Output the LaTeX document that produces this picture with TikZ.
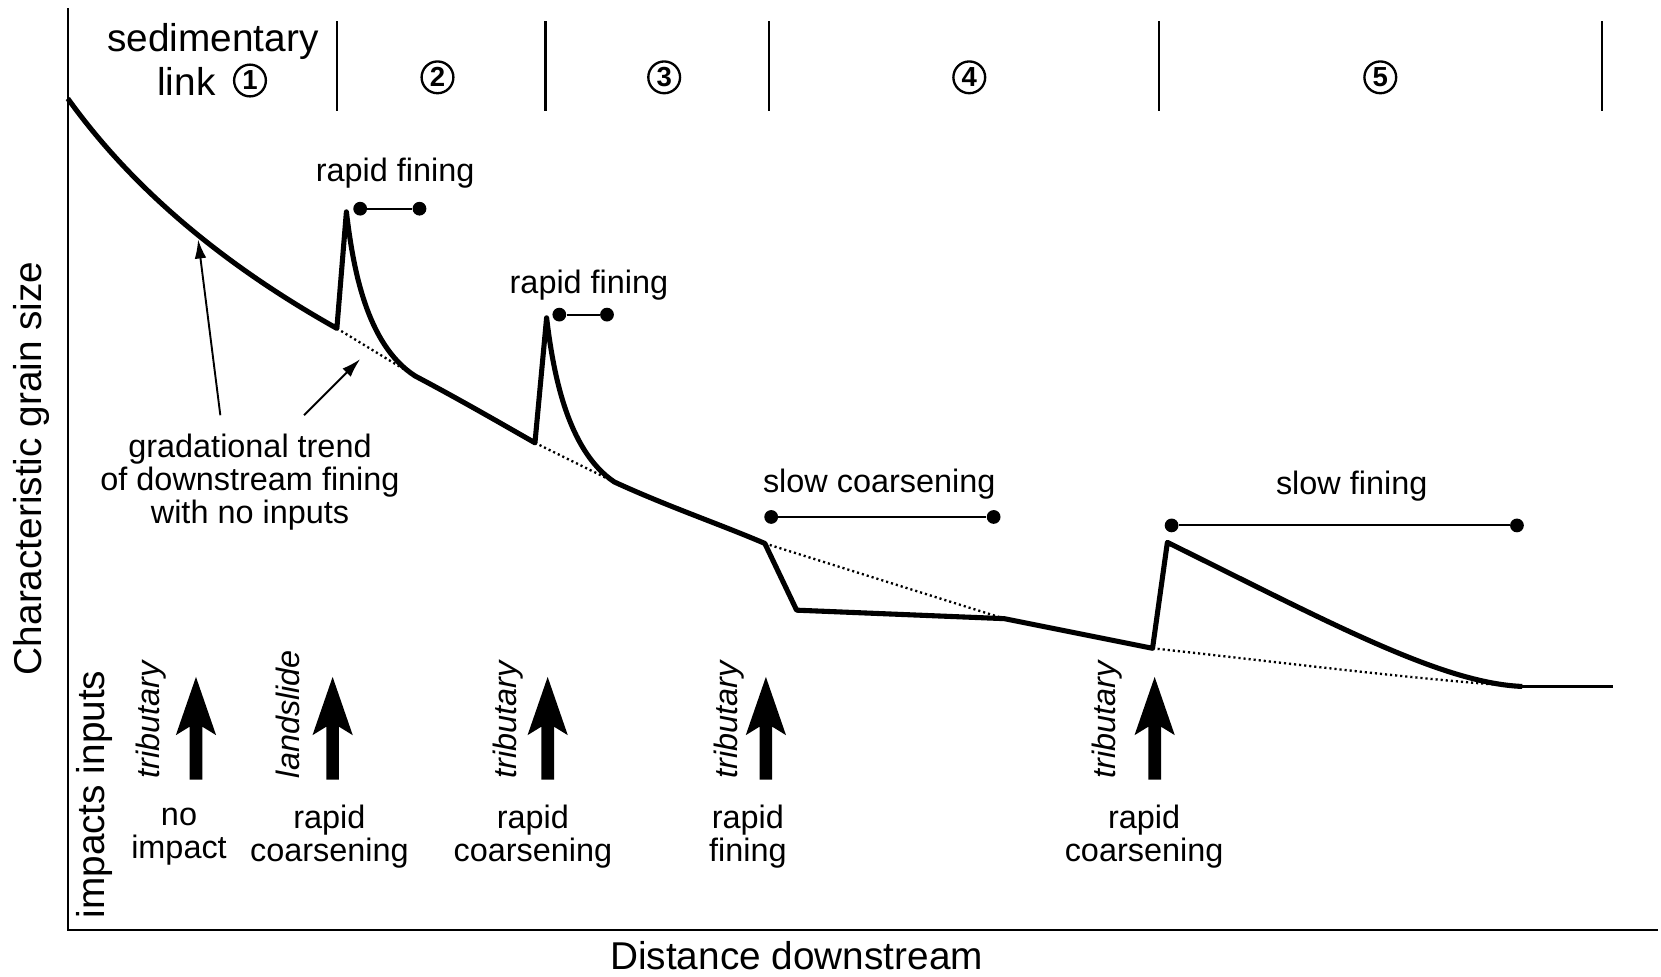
\documentclass[tikz,border=0pt]{standalone}
\usepackage{fontspec}
\setmainfont{Liberation Sans}
\usetikzlibrary{arrows.meta}
\begin{document}
\begin{tikzpicture}[x=0.5pt,y=-0.5pt,
  bigtxt/.style={font=\fontsize{18.3}{19}\selectfont, inner sep=0pt},
  smalltxt/.style={font=\fontsize{15.3}{15.5}\selectfont, inner sep=0pt, align=center},
  sidetxt/.style={font=\fontsize{15.3}{15.5}\selectfont\itshape, inner sep=0pt, rotate=90, anchor=west},
  circnum/.style={circle, draw, line width=1.1pt, inner sep=0pt, minimum size=15pt, font=\fontsize{13}{13}\selectfont\bfseries},
  axisline/.style={line width=1.1pt},
  divider/.style={line width=1pt},
  profile/.style={line width=2.4pt, line join=round},
  trend/.style={line width=1.1pt, dash pattern=on 1pt off 1.4pt},
  rangebar/.style={line width=1pt},
  dotend/.style={circle, fill, inner sep=0pt, minimum size=6.5pt},
  pointer/.style={line width=0.9pt, -{Latex[length=9pt,width=5.5pt]}},
  uparrow/.pic={\fill (-6,0) -- (-6,-50) -- (-19,-42) -- (0,-97) -- (19,-42) -- (6,-50) -- (6,0) -- cycle;}
]
\useasboundingbox (0,0) rectangle (1568,922);

% axes
\coordinate (axtop) at (64,8);
\coordinate (axorigin) at (64,878);
\coordinate (axright) at (1565,878);
\draw[axisline] (axtop) -- (axorigin) -- (axright);

% link dividers
\foreach \x in {318,515,726,1094,1512}
  \draw[divider] (\x,20) -- (\x,105);

% link labels
\node[bigtxt] (sed) at (201,39) {sedimentary};
\node[bigtxt] (lnk) at (176,77) {link};
\node[circnum] (n1) at (236,76) {1};
\node[circnum] (n2) at (413,73) {2};
\node[circnum] (n3) at (627,73) {3};
\node[circnum] (n4) at (915,73) {4};
\node[circnum] (n5) at (1303,73) {5};

% axis titles
\node[bigtxt, rotate=90] (ylab) at (30,442) {Characteristic grain size};
\node[bigtxt] (xlab) at (752,902) {Distance downstream};
\node[bigtxt, rotate=90] (imp) at (89,750) {impacts inputs};

% gradational trend without inputs (dotted parts)
\draw[trend] (318,310) -- (392,355);
\draw[trend] (505,418) -- (580,455);
\draw[trend] (722,513) -- (948,584);
\draw[trend] (1088,612) .. controls (1200,624) and (1330,641) .. (1437,648);

% grain size profile
\draw[profile] (64,93) .. controls (130,185) and (220,255) .. (318,310)
  -- (327,200)
  .. controls (333,250) and (345,325) .. (392,355)
  .. controls (430,375) and (470,398) .. (505,418)
  -- (516,300)
  .. controls (522,350) and (535,425) .. (580,455)
  .. controls (630,478) and (680,495) .. (722,513)
  -- (752,576) -- (948,584) -- (1088,612)
  -- (1102,512)
  .. controls (1250,585) and (1360,645) .. (1437,648);
\draw[line width=1pt] (1437,648) -- (1523,648);

% range bars
\node[smalltxt] (rf1) at (373,163) {rapid fining};
\node[dotend] (r1a) at (340,197) {};
\node[dotend] (r1b) at (396,197) {};
\draw[rangebar] (r1a) -- (r1b);

\node[smalltxt] (rf2) at (556,269) {rapid fining};
\node[dotend] (r2a) at (528,297) {};
\node[dotend] (r2b) at (573,297) {};
\draw[rangebar] (r2a) -- (r2b);

\node[smalltxt] (sc) at (830,457) {slow coarsening};
\node[dotend] (r3a) at (728,488) {};
\node[dotend] (r3b) at (938,488) {};
\draw[rangebar] (r3a) -- (r3b);

\node[smalltxt] (sf) at (1276,459) {slow fining};
\node[dotend] (r4a) at (1106,496) {};
\node[dotend] (r4b) at (1432,496) {};
\draw[rangebar] (r4a) -- (r4b);

% gradational trend annotation
\node[smalltxt] (grad) at (236,455) {gradational trend\\of downstream fining\\with no inputs};
\coordinate (g1s) at (208,392);
\coordinate (g1e) at (187,226);
\coordinate (g2s) at (287,392);
\coordinate (g2e) at (340,339);
\draw[pointer] (g1s) -- (g1e);
\draw[pointer] (g2s) -- (g2e);

% inputs
\pic at (185,736) {uparrow};
\pic at (314,736) {uparrow};
\pic at (517,736) {uparrow};
\pic at (723,736) {uparrow};
\pic at (1090,736) {uparrow};

\node[sidetxt] (in1) at (143,735) {tributary};
\node[sidetxt] (in2) at (272,735) {landslide};
\node[sidetxt] (in3) at (480,735) {tributary};
\node[sidetxt] (in4) at (688,735) {tributary};
\node[sidetxt] (in5) at (1045,735) {tributary};

% impacts
\node[smalltxt] (im1) at (169,790) {no\\impact};
\node[smalltxt] (im2) at (311,790) {rapid\\coarsening};
\node[smalltxt] (im3) at (503,790) {rapid\\coarsening};
\node[smalltxt] (im4) at (706,790) {rapid\\fining};
\node[smalltxt] (im5) at (1080,790) {rapid\\coarsening};
\end{tikzpicture}
\end{document}
